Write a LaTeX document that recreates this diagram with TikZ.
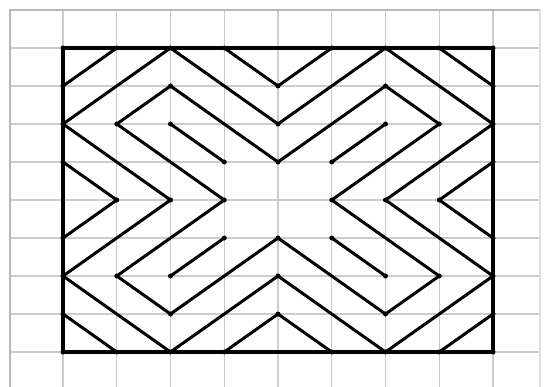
\documentclass[tikz,border=0pt]{standalone}
\begin{document}
\begin{tikzpicture}[x=1pt,y=-1pt,
  gridline/.style={draw=black!20, line width=1.4pt},
  frameline/.style={draw=black!28, line width=1.8pt},
  fig/.style={draw=black, line width=3pt, line join=round, line cap=round},
  dotmark/.style={fill=black}]
\useasboundingbox (0,0) rectangle (545,387);
\fill[white] (0,0) rectangle (545,387);
% grid
\foreach \k in {1,...,9} \draw[gridline] ({9.25+53.75*\k},10) -- ({9.25+53.75*\k},387);
\foreach \k in {1,...,9} \draw[gridline] (10,{10+38*\k}) -- (540,{10+38*\k});
\draw[frameline] (10,387) -- (10,10) -- (540,10);
\draw[gridline, draw=black!12] (540,10) -- (540,387);
% lattice coordinates
\foreach \i in {0,...,8} \foreach \j in {0,...,8}
  \coordinate (p\i\j) at ({63+53.75*\i},{48+38*\j});
% outer rectangle
\draw[fig, line width=3.4pt] (p00) -- (p80) -- (p88) -- (p08) -- cycle;
% outer loop
\draw[fig] (p02)--(p20)--(p42)--(p60)--(p82)--(p64)--(p86)--(p68)--(p46)--(p28)--(p06)--(p24)--cycle;
% middle loop
\draw[fig] (p12)--(p21)--(p43)--(p61)--(p72)--(p54)--(p76)--(p67)--(p45)--(p27)--(p16)--(p34)--cycle;
% corner segments
\draw[fig] (p01)--(p10);
\draw[fig] (p70)--(p81);
\draw[fig] (p87)--(p78);
\draw[fig] (p18)--(p07);
% chevrons
\draw[fig] (p30)--(p41)--(p50);
\draw[fig] (p38)--(p47)--(p58);
\draw[fig] (p03)--(p14)--(p05);
\draw[fig] (p83)--(p74)--(p85);
% inner segments
\draw[fig] (p22)--(p33);
\draw[fig] (p62)--(p53);
\draw[fig] (p26)--(p35);
\draw[fig] (p66)--(p55);
% dots
\foreach \p in {p00,p80,p88,p08,p01,p10,p70,p81,p87,p78,p18,p07,
  p02,p20,p42,p60,p82,p64,p86,p68,p46,p28,p06,p24,
  p12,p21,p43,p61,p72,p54,p76,p67,p45,p27,p16,p34,
  p30,p41,p50,p38,p47,p58,p03,p14,p05,p83,p74,p85,
  p22,p33,p62,p53,p26,p35,p66,p55}
  \fill[dotmark] (\p) circle (2.5pt);
\end{tikzpicture}
\end{document}
